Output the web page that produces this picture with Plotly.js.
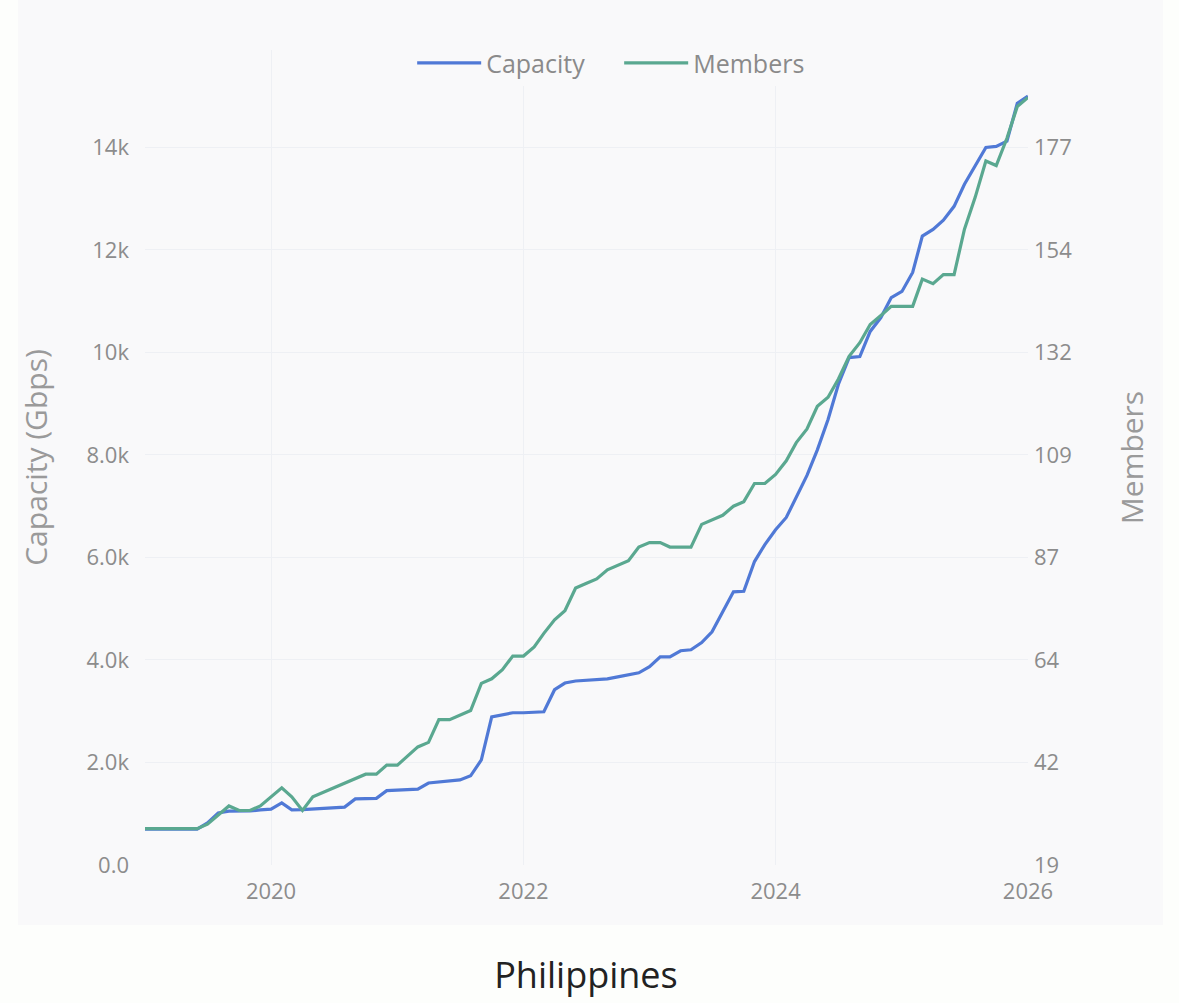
<!DOCTYPE html>
<html>
<head>
<meta charset="utf-8">
<script src="https://cdn.plot.ly/plotly-3.0.1.min.js"></script>
<style>
  html, body { margin: 0; padding: 0; background: #fdfefc; }
  #chart { width: 1179px; height: 1003px; }
</style>
</head>
<body>
<div id="chart"></div>
<script>
// Monthly observations, Jan 2019 .. Jan 2026
const startYear = 2019;
const monthCount = 85;
const months = [];
for (let i = 0; i < monthCount; i++) {
  const y = startYear + Math.floor(i / 12);
  const m = (i % 12) + 1;
  months.push(y + '-' + (m < 10 ? '0' + m : m) + '-01');
}

const capacity = [
  700, 700, 700, 700, 700, 700, 820, 1015, 1050, 1050, 1055, 1075,
  1090, 1210, 1075, 1080, 1095, 1110, 1115, 1130, 1290, 1290, 1300, 1450,
  1460, 1470, 1480, 1600, 1620, 1630, 1660, 1740, 2050, 2890, 2930, 2970,
  2970, 2980, 2990, 3420, 3550, 3590, 3600, 3610, 3630, 3670, 3710, 3750,
  3870, 4060, 4060, 4180, 4200, 4340, 4550, 4950, 5330, 5340, 5920, 6250,
  6540, 6780, 7170, 7600, 8100, 8690, 9380, 9900, 9920, 10410, 10680, 11070,
  11190, 11560, 12270, 12400, 12580, 12850, 13280, 13650, 14000, 14020, 14120, 14860,
  15000
];

const members = [
  27, 27, 27, 27, 27, 27, 28, 30, 32, 31, 31, 32,
  34, 36, 34, 31, 34, 35, 36, 37, 38, 39, 39, 41,
  41, 43, 45, 46, 51, 51, 52, 53, 59, 60, 62, 65,
  65, 67, 70, 73, 75, 80, 81, 82, 84, 85, 86, 89,
  90, 90, 89, 89, 89, 94, 95, 96, 98, 99, 103, 103,
  105, 108, 112, 115, 120, 122, 126, 131, 134, 138, 140, 142,
  142, 142, 148, 147, 149, 149, 159, 166, 174, 173, 179, 186,
  188
];

const leftTickVals = [0, 2000, 4000, 6000, 8000, 10000, 12000, 14000];
const leftTickText = ['0.0', '2.0k', '4.0k', '6.0k', '8.0k', '10k', '12k', '14k'];
const rightTickText = ['19', '42', '64', '87', '109', '132', '154', '177'];
const membersAtZero = 19;
const membersAt14k = 177;
const xTickVals = ['2020-01-01', '2022-01-01', '2024-01-01', '2026-01-01'];
const xTickText = ['2020', '2022', '2024', '2026'];

const leftTop = 15900;
const slope = (membersAt14k - membersAtZero) / 14000;
const rightTickVals = leftTickVals.map(v => membersAtZero + v * slope);
const rightRange = [membersAtZero, membersAtZero + leftTop * slope];

const W = 1179, H = 1003;
const M = { l: 145, r: 151, t: 50, b: 138 };
const pw = W - M.l - M.r, ph = H - M.t - M.b;
const px2x = p => (p - M.l) / pw;
const px2y = p => (H - M.b - p) / ph;

const fontFam = '"Open Sans", "Noto Sans", sans-serif';
const tickCol = '#8c8c8c';
const titleCol = '#9a9a9a';
const gray = '#f9f9fa';

const traces = [
  {
    type: 'scatter', mode: 'lines', name: 'Capacity',
    x: months, y: capacity, yaxis: 'y',
    line: { color: '#5079d6', width: 3.2 }
  },
  {
    type: 'scatter', mode: 'lines', name: 'Members',
    x: months, y: members, yaxis: 'y2',
    line: { color: '#5aa890', width: 3.2 }
  }
];

const layout = {
  width: W, height: H,
  margin: M,
  paper_bgcolor: '#fdfefc',
  plot_bgcolor: 'rgba(0,0,0,0)',
  font: { family: fontFam, color: tickCol },
  showlegend: true,
  legend: {
    orientation: 'h', x: 0.537, xanchor: 'center', y: 1.012, yanchor: 'top',
    bgcolor: gray, font: { size: 25, color: '#8a8a8a' },
    itemwidth: 64, entrywidth: 128, entrywidthmode: 'pixels'
  },
  title: {
    text: 'Philippines', xref: 'container', x: 0.497, xanchor: 'center',
    yref: 'container', y: 0.028, yanchor: 'middle',
    font: { size: 36, color: '#222222', family: fontFam }
  },
  xaxis: {
    type: 'date',
    range: ['2019-01-01', '2026-01-01'],
    tickvals: xTickVals, ticktext: xTickText,
    showgrid: true, gridcolor: '#eef0f4', gridwidth: 1,
    zeroline: false, showline: false, ticks: '',
    ticklabelstandoff: 11,
    tickfont: { size: 22, color: tickCol }
  },
  yaxis: {
    range: [0, leftTop],
    tickvals: leftTickVals, ticktext: leftTickText,
    showgrid: true, gridcolor: '#eef0f4', gridwidth: 1,
    zeroline: false, showline: false, ticks: '',
    ticklabelstandoff: 15,
    tickfont: { size: 22, color: tickCol },
    title: { text: 'Capacity (Gbps)', standoff: 30, font: { size: 30, color: titleCol } }
  },
  yaxis2: {
    overlaying: 'y', side: 'right',
    range: rightRange,
    tickvals: rightTickVals, ticktext: rightTickText,
    showgrid: false, zeroline: false, showline: false, ticks: '',
    ticklabelstandoff: 5,
    tickfont: { size: 22, color: tickCol },
    title: { text: 'Members', standoff: 50, font: { size: 30, color: titleCol } }
  },
  shapes: [
    {
      type: 'rect', xref: 'paper', yref: 'paper', layer: 'below',
      x0: px2x(18), x1: px2x(1163), y0: px2y(925), y1: px2y(0),
      fillcolor: gray, line: { width: 0 }
    }
  ]
};

Plotly.newPlot('chart', traces, layout, { displayModeBar: false, responsive: false });
</script>
</body>
</html>
